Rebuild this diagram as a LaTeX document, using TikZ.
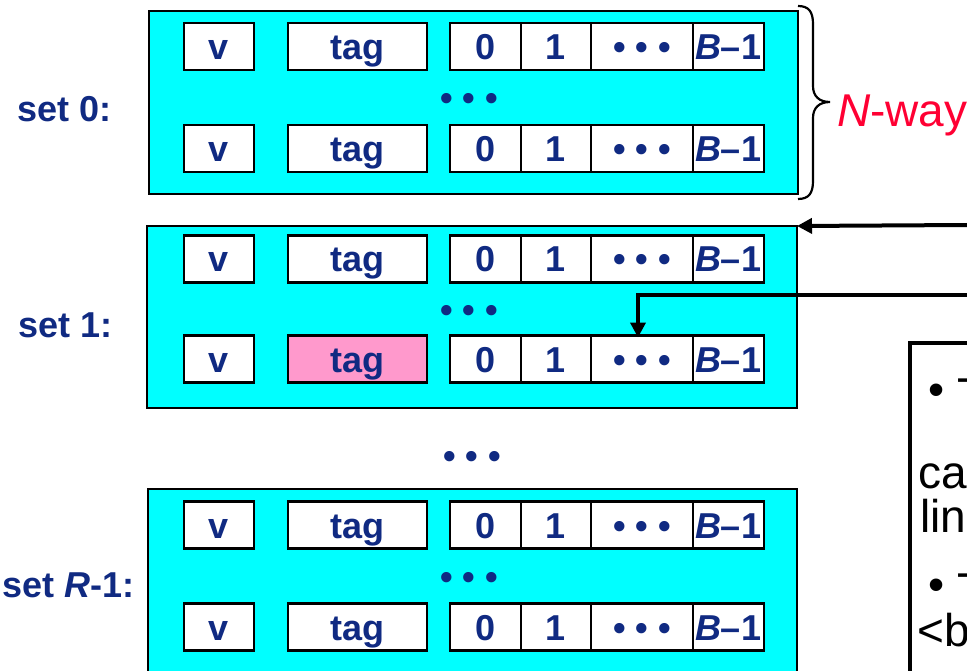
\documentclass[tikz,border=0pt]{standalone}
\usepackage{fontspec}
\setmainfont{Liberation Sans}
\usetikzlibrary{arrows.meta}
\definecolor{navy}{RGB}{16,42,130}
\definecolor{cyanfill}{RGB}{0,255,255}
\definecolor{pinkfill}{RGB}{255,153,204}
\definecolor{wayred}{RGB}{255,0,51}
\tikzset{
  setbox/.style={draw=black, line width=2pt, fill=cyanfill, inner sep=0pt, outer sep=0pt},
  cell/.style={draw=black, line width=2.5pt, fill=white, inner sep=0pt, outer sep=0pt,
    minimum height=47pt, text height=26pt, text depth=0pt,
    font=\bfseries\fontsize{36}{36}\selectfont, text=navy},
  dotrow/.style={inner sep=0pt, text height=26pt, text depth=0pt,
    font=\bfseries\fontsize{36}{36}\selectfont, text=navy},
  setlabel/.style={anchor=base west, inner sep=0pt,
    font=\bfseries\fontsize{36}{36}\selectfont, text=navy},
  ptr/.style={line width=4pt, -{Triangle[length=15pt,width=15pt]}},
  notetext/.style={anchor=base west, inner sep=0pt, font=\fontsize{46}{46}\selectfont, text=black},
}
\newcommand\cacherow[3]{%
  \node[cell, minimum width=70pt] (#1v) at (219,#2) {v};
  \node[cell, minimum width=139pt, fill=#3] (#1tag) at (357.5,#2) {tag};
  \node[cell, minimum width=71pt] (#1b0) at (485.5,#2) {0};
  \node[cell, minimum width=70pt] (#1b1) at (556,#2) {1};
  \node[cell, minimum width=102pt] (#1dots) at (642,#2) {• • •};
  \node[cell, minimum width=71pt] (#1last) at (728.5,#2) {\textit{B}\kern-1pt–1};
}
\begin{document}
\begin{tikzpicture}[x=1pt,y=-1pt]
\useasboundingbox (0,0) rectangle (967,671);
\clip (0,0) rectangle (967,671);
\fill[white] (0,0) rectangle (967,671);

% sets
\node[setbox, minimum width=649pt, minimum height=183pt] (set0) at (473.5,102.5) {};
\node[setbox, minimum width=650pt, minimum height=182pt] (set1) at (472,317) {};
\node[setbox, minimum width=649pt, minimum height=300pt] (setR) at (472.5,639) {};

\cacherow{a}{46.5}{white}
\cacherow{b}{148.5}{white}
\cacherow{c}{259}{white}
\cacherow{d}{359}{pinkfill}
\cacherow{e}{525}{white}
\cacherow{f}{627}{white}

\node[dotrow] (dots0) at (469,97.5) {• • •};
\node[dotrow] (dots1) at (469,309) {• • •};
\node[dotrow] (dotsR) at (469,576) {• • •};
\node[dotrow] (dotsmid) at (472,455) {• • •};

% labels
\node[setlabel] (lab0) at (17,122) {set 0:};
\node[setlabel] (lab1) at (18,337) {set 1:};
\node[setlabel] (labR) at (2,597) {set \textit{R}-1:};

% brace
\draw[line width=2.2pt] (798,6) .. controls (809,6) and (813,12) .. (813,24) -- (813,86)
  .. controls (813,96) and (819,102) .. (830,102)
  .. controls (819,102) and (813,108) .. (813,118) -- (813,181)
  .. controls (813,193) and (809,199) .. (798,199);
\node[anchor=base west, inner sep=0pt, text=wayred, font=\fontsize{46}{46}\selectfont] (nway) at (837,127) {\textit{N}-way};

% note box
\node[draw=black, line width=3.5pt, fill=white, anchor=north west, inner sep=0pt, outer sep=0pt,
  minimum width=200pt, minimum height=400pt] (notebox) at (910,343) {};
\node[notetext] (n1b) at (928,405) {•};
\node[notetext] (n1t) at (957,410) {T};
\node[notetext] (n2) at (918,488) {ca};
\node[notetext] (n3) at (920,532) {lin};
\node[notetext] (n4b) at (928,600) {•};
\node[notetext] (n4t) at (957,605) {T};
\node[notetext] (n5) at (917,646) {<b};

% pointers
\coordinate (in1) at (967,225);
\coordinate (in2) at (967,295);
\draw[ptr] (in1) -- (set1.north east);
\draw[ptr] (in2) -| ([xshift=-4pt,yshift=-2pt]ddots.north);
\end{tikzpicture}
\end{document}
